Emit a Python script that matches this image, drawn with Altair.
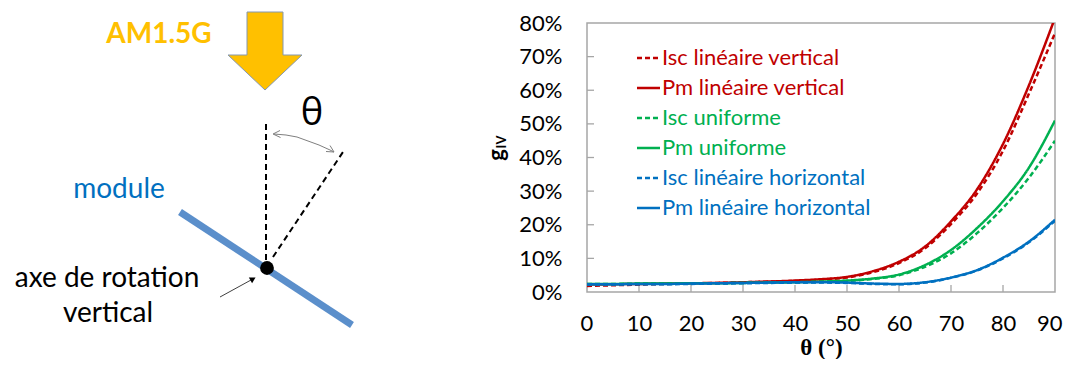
import altair as alt
import pandas as pd

# ---------------- line chart data (values in %) ----------------
theta_deg = [0, 5, 10, 15, 20, 25, 30, 35, 40, 45, 50, 55, 60, 65, 70, 75, 80, 85, 90]
isc_lin_vert = [1.8, 2.0, 2.2, 2.4, 2.5, 2.7, 2.9, 3.1, 3.3, 3.7, 4.3, 5.9, 8.6, 13.0, 20.2, 29.3, 42.0, 59.0, 77.0]
pm_lin_vert = [2.2, 2.3, 2.4, 2.5, 2.6, 2.7, 2.9, 3.1, 3.4, 3.8, 4.5, 6.2, 9.0, 13.5, 21.0, 30.5, 44.0, 61.5, 81.5]
isc_unif = [2.4, 2.4, 2.5, 2.5, 2.6, 2.6, 2.7, 2.8, 2.9, 3.0, 3.3, 3.9, 5.0, 7.5, 11.5, 17.5, 25.0, 34.0, 45.0]
pm_unif = [2.4, 2.4, 2.5, 2.5, 2.6, 2.6, 2.7, 2.8, 2.9, 3.1, 3.4, 4.0, 5.2, 8.0, 12.5, 19.0, 27.0, 37.0, 51.0]
isc_lin_hor = [2.2, 2.2, 2.3, 2.3, 2.4, 2.5, 2.6, 2.7, 2.8, 2.8, 2.7, 2.4, 2.3, 2.8, 4.2, 6.4, 10.0, 14.8, 21.2]
pm_lin_hor = [2.3, 2.3, 2.4, 2.4, 2.5, 2.6, 2.7, 2.8, 2.9, 2.9, 2.8, 2.5, 2.4, 2.9, 4.3, 6.5, 10.2, 15.0, 21.5]

series_names = ["Isc linéaire vertical", "Pm linéaire vertical", "Isc uniforme",
                "Pm uniforme", "Isc linéaire horizontal", "Pm linéaire horizontal"]
series_values = [isc_lin_vert, pm_lin_vert, isc_unif, pm_unif, isc_lin_hor, pm_lin_hor]
series_colors = ["#C00000", "#C00000", "#00B050", "#00B050", "#0070C0", "#0070C0"]
series_dash = [[5, 3], [1, 0], [5, 3], [1, 0], [5, 3], [1, 0]]

x_tick_values = [0, 10, 20, 30, 40, 50, 60, 70, 80, 90]
y_tick_values = [0, 0.1, 0.2, 0.3, 0.4, 0.5, 0.6, 0.7, 0.8]
inner_x_ticks = [10, 20, 30, 40, 50, 60, 70, 80]
inner_y_ticks = [0.1, 0.2, 0.3, 0.4, 0.5, 0.6, 0.7]

# ---------------- schematic (left), in page pixel units ----------------
arrow_x = [247, 283, 283, 302, 265, 228, 247, 247]
arrow_y = [12, 12, 55, 55, 90, 55, 55, 12]
module_x = [180, 352]
module_y = [212, 325]
dash_seg = ["vertical", "vertical", "tilted", "tilted"]
dash_x = [266, 266, 273, 345]
dash_y = [124, 261, 257, 149]
gray_seg = ["arc"] * 7 + ["headL"] * 3 + ["headR"] * 3
gray_x = [274, 286, 297, 308, 319, 330, 334, 280, 273, 280.5, 326, 334, 330]
gray_y = [134, 135, 137, 141, 145, 150, 152, 130.5, 134, 137.5, 151.5, 152, 145.5]
pointer_x = [220, 251]
pointer_y = [297, 280]
pointer_tip = (253, 279)
dot_xy = (267, 268)

TOP = 15
W, H = 468, 292 - 8 - TOP
X_DIAG = [587, 1055]
Y_DIAG = [8 + TOP, 292]


def dx(f):
    return alt.X(f"{f}:Q", scale=alt.Scale(domain=X_DIAG, nice=False, zero=False), axis=None)


def dy(f):
    return alt.Y(f"{f}:Q", scale=alt.Scale(domain=Y_DIAG, reverse=True, nice=False, zero=False), axis=None)


# ---------------- build tables ----------------
rows = []
for name, vals in zip(series_names, series_values):
    for t, v in zip(theta_deg, vals):
        rows.append({"theta": t, "g": v / 100.0, "series": name})
lines_df = pd.DataFrame(rows)

color_scale = alt.Scale(domain=series_names, range=series_colors)
dash_scale = alt.Scale(domain=series_names, range=series_dash)

lines = alt.Chart(lines_df).mark_line(strokeWidth=2.5, interpolate="monotone", clip=True).encode(
    x=alt.X("theta:Q", scale=alt.Scale(domain=[0, 90], nice=False),
            axis=alt.Axis(values=x_tick_values, title="θ (°)", labelFont="Lato", labelFontSize=22,
                          labelColor="#000000", labelPadding=21, labelFlush=True, labelFlushOffset=7,
                          ticks=False, tickSize=0,
                          domain=False, grid=False, titleFont="Liberation Serif", titleFontSize=23,
                          titleFontWeight="bold", titleColor="#000000", titlePadding=2)),
    y=alt.Y("g:Q", scale=alt.Scale(domain=[0, 0.8], nice=False),
            axis=alt.Axis(values=y_tick_values, format=".0%", title=None, labelFont="Lato", labelFontSize=22,
                          labelColor="#000000", labelPadding=25, labelFlush=False, ticks=False, tickSize=0,
                          domain=False, grid=False)),
    color=alt.Color("series:N", scale=color_scale, legend=None),
    strokeDash=alt.StrokeDash("series:N", scale=dash_scale, legend=None),
    detail="series:N",
)

xt = alt.Chart(pd.DataFrame({"t": inner_x_ticks})).mark_rule(color="#A6A6A6", strokeWidth=1.3).encode(
    x=alt.X("t:Q", scale=alt.Scale(domain=[0, 90], nice=False), axis=None),
    y=alt.value(H), y2=alt.value(H - 7))
yt = alt.Chart(pd.DataFrame({"t": inner_y_ticks})).mark_rule(color="#A6A6A6", strokeWidth=1.3).encode(
    y=alt.Y("t:Q", scale=alt.Scale(domain=[0, 0.8], nice=False), axis=None),
    x=alt.value(0), x2=alt.value(7))

# legend
leg_df = pd.DataFrame({"label": series_names, "rank": list(range(len(series_names)))})
leg_y = alt.Y("rank:O", scale=alt.Scale(type="point", range=[57 - TOP, 207 - TOP], padding=0), axis=None)
leg_text = alt.Chart(leg_df).mark_text(align="left", baseline="alphabetic", font="Lato", fontSize=22).encode(
    x=alt.value(75), y=leg_y, text="label:N",
    color=alt.Color("label:N", scale=color_scale, legend=None))
leg_sym = alt.Chart(leg_df).mark_rule(strokeWidth=2.5, yOffset=-7).encode(
    x=alt.value(50), x2=alt.value(73), y=leg_y,
    color=alt.Color("label:N", scale=color_scale, legend=None),
    strokeDash=alt.StrokeDash("label:N", scale=dash_scale, legend=None))

# y title g_IV
ytitle_g = alt.Chart(pd.DataFrame({"x": [497], "y": [155], "t": ["g"]})).mark_text(
    angle=270, font="Lato", fontWeight="bold", fontSize=22, color="#000000", align="center", baseline="middle"
).encode(x=dx("x"), y=dy("y"), text="t:N")
ytitle_iv = alt.Chart(pd.DataFrame({"x": [502], "y": [142], "t": ["IV"]})).mark_text(
    angle=270, font="Lato", fontWeight="bold", fontSize=13, color="#000000", align="center", baseline="middle"
).encode(x=dx("x"), y=dy("y"), text="t:N")

# schematic
arrow_df = pd.DataFrame({"x": arrow_x, "y": arrow_y, "o": list(range(len(arrow_x)))})
arrow = alt.Chart(arrow_df).mark_line(fill="#FFC000", stroke="#8497B0", strokeWidth=1, strokeJoin="miter").encode(
    x=dx("x"), y=dy("y"), order="o:Q")

module_df = pd.DataFrame({"x": module_x, "y": module_y, "o": [0, 1]})
module = alt.Chart(module_df).mark_line(color="#5B8FCB", strokeWidth=7, strokeCap="butt").encode(
    x=dx("x"), y=dy("y"), order="o:Q")

dash_df = pd.DataFrame({"seg": dash_seg, "x": dash_x, "y": dash_y, "o": list(range(len(dash_x)))})
dashes = alt.Chart(dash_df).mark_line(color="#000000", strokeWidth=2, strokeDash=[6, 4]).encode(
    x=dx("x"), y=dy("y"), detail="seg:N", order="o:Q")

gray_df = pd.DataFrame({"seg": gray_seg, "x": gray_x, "y": gray_y, "o": list(range(len(gray_x)))})
grays = alt.Chart(gray_df).mark_line(color="#7F7F7F", strokeWidth=1).encode(
    x=dx("x"), y=dy("y"), detail="seg:N", order="o:Q")

pointer_df = pd.DataFrame({"x": pointer_x, "y": pointer_y, "o": [0, 1]})
pointer = alt.Chart(pointer_df).mark_line(color="#404040", strokeWidth=1).encode(
    x=dx("x"), y=dy("y"), order="o:Q")
tip = alt.Chart(pd.DataFrame({"x": [pointer_tip[0]], "y": [pointer_tip[1]]})).mark_point(
    shape="triangle-up", filled=True, size=45, angle=61, color="#000000", opacity=1).encode(x=dx("x"), y=dy("y"))

dot = alt.Chart(pd.DataFrame({"x": [dot_xy[0]], "y": [dot_xy[1]]})).mark_circle(
    size=190, color="#000000", opacity=1).encode(x=dx("x"), y=dy("y"))


def label(txt, x, y, size, color="#000000", weight="normal", font="Lato"):
    return alt.Chart(pd.DataFrame({"x": [x], "y": [y], "t": [txt]})).mark_text(
        font=font, fontSize=size, fontWeight=weight, color=color, align="center", baseline="alphabetic"
    ).encode(x=dx("x"), y=dy("y"), text="t:N")


texts = [
    label("AM1.5G", 159, 43, 28, "#FFC000", "bold"),
    label("θ", 312, 125, 38, font="Open Sans"),
    label("module", 119, 198, 28, "#0070C0"),
    label("axe de rotation", 107, 287, 28),
    label("vertical", 108, 322, 28),
]

chart = alt.layer(
    arrow, module, dashes, grays, pointer, tip, dot, *texts,
    xt, yt, lines, leg_sym, leg_text, ytitle_g, ytitle_iv
).resolve_scale(
    x="independent", y="independent", color="independent", strokeDash="independent"
).properties(
    width=W, height=H,
    padding={"left": 579, "top": TOP, "right": 10, "bottom": 67},
    autosize=alt.AutoSizeParams(type="none"),
).configure_view(stroke="#A6A6A6", strokeWidth=1.5)

chart.save("out.html", embed_options={"renderer": "svg", "actions": False})
